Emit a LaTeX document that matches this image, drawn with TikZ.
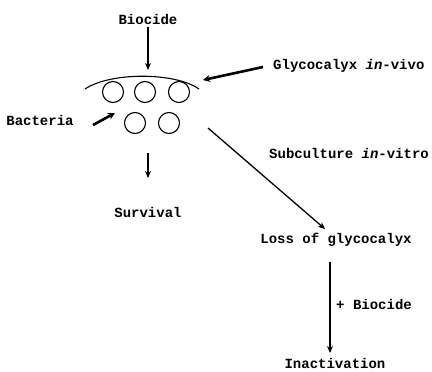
\documentclass[tikz,border=0pt]{standalone}
\usepackage{fontspec}
\setmainfont{Liberation Mono}
\usetikzlibrary{arrows.meta}
\begin{document}
\begin{tikzpicture}[x=1pt,y=-1pt,
  lbl/.style={font=\fontsize{14}{16}\selectfont\bfseries, inner sep=0pt},
  cell/.style={circle, draw, line width=1.1pt, minimum size=21pt, inner sep=0pt},
  arr/.style={line width=1.3pt, -{Stealth[length=7pt,width=6pt]}},
  tarr/.style={line width=2.6pt, -{Stealth[length=7pt,width=7pt]}}]
\useasboundingbox (0,0) rectangle (432,372);
\node[lbl] (biocide) at (148,19) {Biocide};
\node[cell] (c1) at (113,92) {};
\node[cell] (c2) at (145,92) {};
\node[cell] (c3) at (179,92) {};
\node[cell] (c4) at (135,123) {};
\node[cell] (c5) at (169,123) {};
\coordinate (al) at (85,89);
\coordinate (ar) at (199,89);
\draw[line width=1.1pt] (al) .. controls (110,72) and (175,72) .. (ar);
\coordinate (atop) at (148,70);
\draw[arr] (biocide.south) ++(0,3) coordinate (bs) -- (atop);
\node[lbl, anchor=west] (glyco) at (273,66) {Glycocalyx \textit{in}-vivo};
\draw[tarr] (glyco.west) ++(-10,1) coordinate (gs) -- (203,80);
\node[lbl] (bact) at (40,120) {Bacteria};
\coordinate (bt) at (115,113);
\draw[tarr] (93,125) -- (bt);
\coordinate (sv0) at (148,153);
\node[lbl] (surv) at (148,212) {Survival};
\draw[arr] (sv0) -- (148,178);
\node[lbl, anchor=west] (sub) at (269,153) {Subculture \textit{in}-vitro};
\node[lbl] (loss) at (336,240) {Loss of glycocalyx};
\coordinate (d0) at (208,128);
\draw[arr] (d0) -- (325,229);
\node[lbl] (inact) at (335,363) {Inactivation};
\draw[arr] (330,262) -- (330,353);
\node[lbl, anchor=west] (plus) at (336,304) {+ Biocide};
\end{tikzpicture}
\end{document}
